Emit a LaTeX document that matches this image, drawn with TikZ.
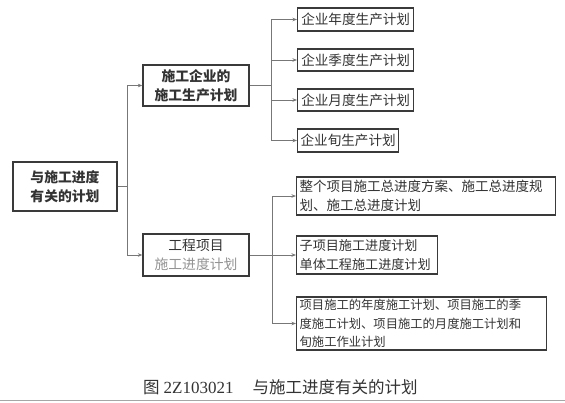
\documentclass[tikz,border=0pt]{standalone}
\usepackage{fontspec}
\setmainfont{Noto Sans CJK SC}
\newfontfamily\serifdigits{Liberation Serif}
\usetikzlibrary{arrows.meta}
\definecolor{ink}{HTML}{333333}
\definecolor{edge}{HTML}{3A3A3A}
\definecolor{wire}{HTML}{777777}
\tikzset{
  box/.style={draw=edge, line width=1.3pt, rectangle, inner sep=0pt, text=ink},
  wireline/.style={draw=wire, line width=0.8pt},
  arr/.style={wireline, -{Stealth[length=4.5pt,width=3.5pt]}},
  txt/.style={font=\fontsize{13.6}{18.5}\selectfont}
}
\begin{document}
\begin{tikzpicture}[x=1pt,y=-1pt]
\useasboundingbox (0,0) rectangle (565,402);
\fill[white] (0,0) rectangle (565,402);

% root
\node[box, align=center, minimum width=104pt, minimum height=49pt, font=\bfseries\fontsize{13.8}{19.5}\selectfont] (root) at (65,186.5) {与施工进度\\有关的计划};

% level 2
\node[box, align=center, minimum width=106pt, minimum height=41pt, font=\bfseries\fontsize{13.8}{19}\selectfont] (A) at (196,85.5) {施工企业的\\施工生产计划};
\node[box, align=center, minimum width=106pt, minimum height=42pt, font=\fontsize{13.8}{19}\selectfont] (B) at (196,255) {工程项目\\\textcolor{gray!85}{施工进度计划}};

% leaves of A
\node[box, txt, anchor=west, minimum width=116pt, minimum height=23pt] (L1) at (297,19.5) {企业年度生产计划};
\node[box, txt, anchor=west, minimum width=116pt, minimum height=22pt] (L2) at (297,60) {企业季度生产计划};
\node[box, txt, anchor=west, minimum width=116pt, minimum height=22pt] (L3) at (297,100) {企业月度生产计划};
\node[box, txt, anchor=west, minimum width=101pt, minimum height=23pt] (L4) at (297,140.5) {企业旬生产计划};

% leaves of B
\node[box, anchor=west, align=left, minimum width=259pt, minimum height=38pt, text width=253pt, inner xsep=3pt, font=\fontsize{13.5}{18.5}\selectfont] (L5) at (296,196) {整个项目施工总进度方案、施工总进度规\\划、施工总进度计划};
\node[box, anchor=west, align=left, minimum width=141pt, minimum height=38pt, text width=135pt, inner xsep=3pt, font=\fontsize{13.1}{18.5}\selectfont] (L6) at (296,255) {子项目施工进度计划\\单体工程施工进度计划};
\node[box, anchor=west, align=left, minimum width=250pt, minimum height=53pt, text width=244pt, inner xsep=3pt, font=\fontsize{12.3}{18.3}\selectfont] (L7) at (296,323.5) {项目施工的年度施工计划、项目施工的季\\度施工计划、项目施工的月度施工计划和\\旬施工作业计划};

% connectors
\draw[wireline] (root.east) -- ++(10,0) coordinate (j1);
\draw[arr] (j1) |- (A.west);
\draw[arr] (j1) |- (B.west);

\draw[wireline] (A.east) -- ++(22,0) coordinate (j2);
\draw[arr] (j2) |- (L1.west);
\draw[arr] (j2) |- (L2.west);
\draw[arr] (j2) |- (L3.west);
\draw[arr] (j2) |- (L4.west);

\draw[wireline] (B.east) -- ++(23,0) coordinate (j3);
\draw[arr] (j3) |- (L5.west);
\draw[arr] (j3) |- (L6.west);
\draw[arr] (j3) |- (L7.west);

% caption
\node[anchor=west, text=ink, inner sep=0pt, font=\fontsize{16.5}{18}\selectfont] (cap) at (143,387) {图\hspace{4pt}{\serifdigits\fontsize{17}{18}\selectfont 2Z103021}\hspace{19pt}与施工进度有关的计划};

% bottom rule
\draw[draw=gray!70, line width=1.2pt] (0,400.5) coordinate (r0) -- (565,400.5) coordinate (r1);
\end{tikzpicture}
\end{document}
